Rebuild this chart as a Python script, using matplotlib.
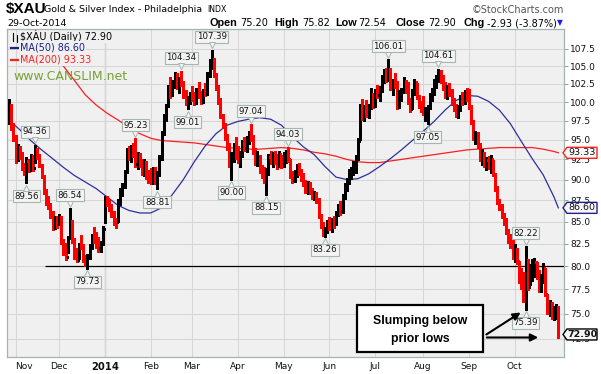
import numpy as np
import pandas as pd
import matplotlib
matplotlib.use("Agg")
import matplotlib.pyplot as plt
from matplotlib.collections import LineCollection
from matplotlib.patches import Polygon, Rectangle, FancyArrowPatch
from matplotlib.lines import Line2D
from matplotlib.ticker import FixedLocator, NullLocator, FuncFormatter
import matplotlib.transforms as mtransforms

W, H, DPI = 601, 374, 100

# ---------------- data ----------------
START, END = "2013-10-29", "2014-10-29"
HOLIDAYS = ["2013-11-28", "2013-12-25", "2014-01-01", "2014-01-20", "2014-02-17",
            "2014-04-18", "2014-05-26", "2014-07-04", "2014-09-01"]

high = [100.4, 99.8, 97.2, 95.6, 94.4, 94.2, 93.4, 92.0, 92.8, 92.6,
        93.2, 93.0, 94.36, 94.0, 93.2, 91.9, 90.6, 88.8, 88.0, 87.2,
        86.2, 85.6, 85.6, 85.9, 85.6, 83.0, 82.6, 83.4, 86.54, 85.2,
        83.1, 82.0, 82.6, 83.5, 82.4, 81.2, 81.3, 82.4, 83.6, 84.4,
        83.8, 83.2, 82.8, 84.5, 88.0, 88.0, 87.6, 87.0, 86.2, 85.4,
        87.6, 89.0, 89.6, 91.2, 94.0, 94.2, 94.3, 94.6, 95.23, 93.4,
        93.3, 92.6, 92.5, 92.3, 91.2, 91.4, 91.6, 91.5, 91.0, 93.0,
        96.2, 98.4, 99.8, 102.4, 103.5, 103.0, 104.2, 104.0, 103.4, 104.34,
        102.9, 101.6, 100.8, 101.4, 102.2, 101.4, 102.0, 102.7, 101.5, 101.8,
        102.6, 104.2, 106.0, 107.39, 106.2, 104.0, 102.4, 100.6, 98.4, 97.2,
        95.8, 94.6, 93.4, 94.6, 95.4, 94.2, 93.5, 95.0, 95.4, 95.5,
        96.2, 97.04, 95.6, 94.0, 93.6, 93.0, 91.8, 91.6, 91.4, 93.2,
        93.6, 93.4, 93.6, 93.2, 93.5, 93.0, 93.4, 93.7, 94.03, 92.6,
        91.0, 91.2, 91.9, 92.1, 91.3, 90.8, 90.0, 89.8, 89.7, 89.0,
        88.6, 88.5, 87.8, 85.9, 85.0, 84.4, 85.2, 85.5, 85.4, 85.7,
        86.2, 87.0, 87.4, 88.2, 89.6, 90.2, 91.3, 91.6, 92.3, 93.0,
        95.2, 99.8, 100.4, 99.6, 100.3, 99.8, 101.9, 101.2, 101.8, 102.4,
        102.2, 103.8, 104.6, 104.8, 106.01, 104.8, 103.2, 104.0, 102.9, 101.6,
        102.0, 103.4, 103.0, 102.8, 100.6, 101.8, 103.2, 102.6, 101.0, 100.2,
        100.8, 99.4, 99.6, 101.2, 102.0, 103.2, 103.8, 104.61, 104.4, 103.8,
        102.8, 102.4, 102.6, 101.8, 100.6, 99.8, 99.6, 101.0, 101.4, 101.6,
        102.0, 101.8, 99.6, 97.6, 96.2, 96.0, 94.6, 93.8, 93.4, 92.8,
        92.9, 93.0, 92.4, 90.8, 89.2, 87.6, 87.0, 86.0, 85.4, 84.2,
        83.6, 83.0, 82.4, 82.0, 80.6, 79.8, 79.4, 82.22, 80.8, 80.2,
        80.8, 80.9, 80.4, 79.6, 79.2, 80.3, 79.8, 77.0, 76.4, 76.2,
        75.8, 76.0, 75.82]

low = [97.0, 96.3, 94.8, 92.0, 92.3, 92.6, 91.2, 90.6, 89.56, 90.9,
       91.1, 91.0, 92.1, 92.5, 91.5, 90.2, 88.2, 86.9, 86.5, 85.4,
       84.0, 84.2, 84.3, 84.6, 82.4, 81.2, 80.7, 81.4, 83.0, 82.6,
       80.8, 80.5, 80.8, 81.9, 80.4, 80.0, 79.73, 80.8, 81.9, 82.6,
       82.0, 81.6, 81.5, 82.3, 84.8, 86.8, 86.2, 85.5, 84.6, 84.3,
       85.0, 86.9, 88.0, 89.0, 90.8, 92.4, 92.2, 92.8, 91.5, 91.3,
       91.6, 90.6, 90.4, 90.1, 89.6, 89.4, 89.5, 89.4, 88.81, 90.4,
       92.4, 95.6, 97.4, 99.3, 100.6, 100.8, 101.9, 101.8, 101.3, 102.2,
       100.6, 99.6, 99.01, 99.7, 100.2, 99.6, 99.8, 100.5, 99.8, 99.9,
       100.8, 101.0, 103.5, 104.6, 103.4, 101.6, 99.8, 97.8, 96.6, 95.0,
       93.7, 91.6, 90.00, 92.2, 92.5, 92.0, 91.6, 92.8, 93.5, 93.4,
       94.4, 94.8, 93.2, 91.8, 91.7, 90.8, 90.2, 89.6, 88.15, 90.6,
       91.9, 91.6, 91.9, 91.3, 91.5, 91.4, 91.5, 92.1, 92.2, 90.2,
       89.6, 89.7, 90.3, 90.6, 89.8, 89.2, 88.4, 88.3, 88.2, 87.6,
       87.5, 87.2, 85.4, 84.3, 83.4, 83.26, 83.7, 84.0, 83.8, 84.3,
       84.6, 85.6, 85.8, 86.0, 87.6, 88.6, 89.5, 90.1, 90.5, 90.8,
       92.4, 95.0, 97.6, 97.4, 98.0, 97.8, 99.0, 99.2, 99.4, 100.6,
       100.2, 101.4, 102.6, 102.8, 102.9, 101.6, 101.0, 101.9, 99.0, 99.2,
       100.2, 101.2, 101.2, 99.8, 98.6, 99.0, 101.0, 100.4, 99.2, 98.6,
       98.2, 97.4, 97.05, 99.0, 100.2, 101.0, 101.9, 102.8, 102.6, 101.6,
       100.6, 100.4, 100.8, 99.6, 98.8, 98.0, 97.8, 98.8, 99.6, 99.8,
       100.2, 99.0, 97.0, 95.0, 94.4, 94.0, 92.3, 91.8, 91.6, 91.2,
       91.3, 90.8, 90.4, 88.6, 87.0, 86.3, 85.4, 84.6, 83.6, 82.6,
       82.0, 80.8, 80.4, 80.2, 78.2, 77.5, 76.2, 75.39, 77.4, 78.0,
       78.4, 78.8, 78.6, 77.2, 77.2, 78.2, 76.8, 75.0, 74.8, 74.4,
       74.3, 74.4, 72.54]

close = [99.2, 96.8, 95.2, 92.4, 94.0, 93.1, 91.5, 90.9, 92.3, 91.3,
         92.8, 91.4, 93.6, 92.8, 91.8, 90.4, 88.4, 87.2, 86.9, 85.6,
         84.4, 85.3, 84.7, 85.5, 82.7, 81.5, 81.0, 83.1, 84.6, 82.9,
         81.0, 80.7, 82.3, 82.2, 80.6, 80.3, 80.9, 82.1, 83.3, 83.0,
         82.3, 82.0, 82.5, 84.2, 87.6, 87.3, 86.6, 85.8, 85.0, 84.9,
         87.3, 88.7, 89.3, 90.9, 93.6, 92.8, 94.0, 93.2, 91.9, 92.8,
         91.9, 91.0, 92.1, 90.4, 90.0, 89.9, 91.2, 89.8, 90.6, 92.7,
         95.9, 98.0, 99.5, 102.0, 101.0, 102.6, 103.8, 102.2, 103.0, 102.6,
         101.0, 100.2, 100.4, 101.0, 100.6, 100.0, 101.6, 100.9, 100.4, 101.5,
         101.2, 103.9, 105.6, 106.1, 103.8, 102.0, 100.2, 98.2, 96.9, 95.3,
         94.0, 92.0, 92.8, 94.2, 93.0, 92.4, 93.2, 94.5, 93.9, 95.1,
         95.8, 95.3, 93.6, 92.3, 92.9, 91.2, 90.6, 89.9, 90.8, 92.8,
         92.3, 93.0, 92.2, 91.7, 93.2, 91.8, 92.9, 93.3, 92.6, 90.5,
         89.9, 90.8, 91.5, 91.0, 90.4, 89.5, 88.9, 89.4, 88.6, 88.0,
         88.3, 87.6, 85.7, 84.6, 83.8, 84.1, 84.8, 84.6, 85.1, 84.8,
         85.9, 86.6, 86.2, 87.9, 89.3, 89.9, 90.9, 91.2, 91.5, 92.6,
         94.9, 99.4, 98.0, 99.2, 98.4, 99.5, 100.8, 99.7, 101.4, 101.0,
         101.9, 103.5, 104.1, 103.2, 104.4, 101.9, 102.8, 102.3, 99.4, 101.2,
         101.8, 102.6, 101.6, 100.2, 99.0, 101.4, 102.8, 100.8, 99.6, 99.0,
         98.6, 98.9, 99.2, 100.9, 101.6, 102.9, 103.5, 104.0, 103.0, 102.0,
         101.0, 101.9, 101.2, 100.0, 99.2, 98.4, 99.3, 100.6, 100.4, 101.3,
         100.6, 99.3, 97.3, 95.4, 95.8, 94.4, 92.7, 93.2, 92.0, 92.4,
         91.6, 92.6, 90.7, 89.0, 87.4, 86.8, 85.7, 85.0, 84.0, 83.0,
         82.4, 81.2, 81.8, 80.6, 78.5, 78.0, 76.6, 80.4, 77.8, 79.2,
         80.3, 80.5, 79.0, 77.6, 78.6, 79.8, 77.0, 75.3, 76.0, 74.7,
         75.5, 75.83, 72.90]

FIRST_OPEN = 98.0
LAST_OPEN = 75.20
CHANGE, CHANGE_PCT = -2.93, -3.87

# moving averages read every 5 trading days (+ last day)
ma_days = list(range(0, 251, 5)) + [252]
ma50 = [97.6, 96.3, 94.9, 93.7, 92.6, 91.5, 90.5, 89.7, 88.9, 87.9,
        86.9, 86.3, 86.0, 86.0, 86.6, 88.2, 90.0, 92.2, 94.2, 95.8,
        96.9, 97.4, 97.7, 97.9, 97.7, 96.9, 95.4, 94.1, 93.1, 91.6,
        90.3, 90.0, 90.1, 90.7, 91.6, 92.6, 93.7, 94.9, 96.1, 97.4,
        98.9, 100.2, 100.9, 100.8, 100.1, 98.9, 97.1, 94.8, 92.6, 90.6,
        87.9, 86.6]
ma200 = [116.0, 113.5, 111.2, 109.0, 106.9, 105.0, 103.0, 101.0, 99.6, 98.5,
         97.6, 96.6, 95.8, 95.2, 94.9, 94.8, 94.7, 94.6, 94.4, 94.2,
         94.0, 93.9, 93.8, 93.8, 93.9, 94.0, 93.9, 93.7, 93.4, 93.2,
         92.9, 92.5, 92.2, 92.1, 92.1, 92.3, 92.5, 92.7, 92.9, 93.1,
         93.3, 93.5, 93.7, 93.8, 93.9, 94.0, 94.0, 94.0, 94.0, 93.8,
         93.5, 93.33]

SUPPORT = 80.0
SUPPORT_FROM = "2013-11-20"

callouts = [(12, 94.36, "hi"), (8, 89.56, "lo"), (28, 86.54, "hi"), (36, 79.73, "lo"),
            (58, 95.23, "hi"), (68, 88.81, "lo"), (79, 104.34, "hi"), (82, 99.01, "lo"),
            (93, 107.39, "hi"), (102, 90.00, "lo"), (111, 97.04, "hi"), (118, 88.15, "lo"),
            (128, 94.03, "hi"), (145, 83.26, "lo"), (174, 106.01, "hi"), (192, 97.05, "lo"),
            (197, 104.61, "hi"), (237, 82.22, "hi"), (237, 75.39, "lo")]

month_names = ["Nov", "Dec", "2014", "Feb", "Mar", "Apr", "May", "Jun", "Jul",
               "Aug", "Sep", "Oct"]
y_ticks = [72.5, 75.0, 77.5, 80.0, 82.5, 85.0, 87.5, 90.0, 92.5, 95.0, 97.5,
           100.0, 102.5, 105.0, 107.5]

# ---------------- calendar ----------------
dates = pd.bdate_range(START, END)
dates = dates[~dates.isin(pd.to_datetime(HOLIDAYS))]
n = min(len(dates), len(high), len(low), len(close))
dates = dates[:n]
high, low, close = high[:n], low[:n], close[:n]

# ---------------- figure ----------------
fig = plt.figure(figsize=(W / DPI, H / DPI), dpi=DPI)
fig.patch.set_facecolor("white")
PL, PR, PT, PB = 7, 564, 29, 357
ax = fig.add_axes([PL / W, 1 - PB / H, (PR - PL) / W, (PB - PT) / H])
BG = "#f0f0f0"
ax.set_facecolor(BG)
ax.set_yscale("log")
ax.set_ylim(70.7, 110.45)
ax.set_xlim(-0.9, 254.6)

ax.yaxis.set_major_locator(FixedLocator(y_ticks))
ax.yaxis.set_minor_locator(NullLocator())
ax.yaxis.set_major_formatter(FuncFormatter(lambda v, p: f"{v:.1f}"))
ax.yaxis.set_minor_formatter(FuncFormatter(lambda v, p: ""))
ax.yaxis.tick_right()
ax.tick_params(axis="y", which="major", length=3, width=0.7, color="#8fa59b",
               labelsize=6.5, pad=1.5, direction="out", labelcolor="#111111")

mon = np.asarray(dates.month)
month_idx = [i for i in range(1, n) if mon[i] != mon[i - 1]]
ax.set_xticks(month_idx)
ax.set_xticklabels([])
ax.tick_params(axis="x", length=0)
ax.grid(True, axis="both", color="#d6d6d6", lw=0.75, zorder=0)
ax.set_axisbelow(True)
for i, m in zip(month_idx, month_names):
    if m == "2014":
        ax.axvline(i, color="#a9b3ae", lw=0.9, zorder=0.5)
for sp in ax.spines.values():
    sp.set_color("#a3b6ad")
    sp.set_linewidth(0.9)

for k, (i, m) in enumerate(zip(month_idx, month_names)):
    ax.text(i, -0.03, m, transform=ax.get_xaxis_transform(),
            ha="left" if k == 0 else "center", va="center",
            fontsize=7.2 if m == "2014" else 6.5,
            fontweight="bold" if m == "2014" else "normal", color="#111111")

# moving averages
ax.plot(ma_days, ma200, color="#ff1e1e", lw=0.9, zorder=2)
ax.plot(ma_days, ma50, color="#2f2f9c", lw=0.9, zorder=2)

# support line
s0 = int(np.searchsorted(dates, pd.Timestamp(SUPPORT_FROM)))
ax.hlines(SUPPORT, s0 + 0.5, 254.6, color="black", lw=0.9, zorder=2.5)

# OHLC bars
opens = [FIRST_OPEN] + close[:-1]
opens[-1] = LAST_OPEN
segs, cols = [], []
TK = 0.5
for i in range(n):
    c = "#ff0000" if (i > 0 and close[i] < close[i - 1]) else "#000000"
    segs += [[(i, low[i]), (i, high[i])],
             [(i - TK, opens[i]), (i, opens[i])],
             [(i, close[i]), (i + TK, close[i])]]
    cols += [c, c, c]
lc = LineCollection(segs, colors=cols, linewidths=0.76, antialiased=False, zorder=3)
ax.add_collection(lc)

# callouts
BOX = dict(boxstyle="square,pad=0.18", fc="#f4f4f4", ec="#a6b6ae", lw=0.8)
for i, v, kind in callouts:
    sgn = 1 if kind == "hi" else -1
    ax.annotate(f"{v:.2f}", xy=(i, v), xycoords="data",
                xytext=(0, sgn * 13 * 72 / DPI), textcoords="offset points",
                ha="center", va="center", fontsize=6.2, color="#111111",
                bbox=BOX, zorder=6, annotation_clip=False)
    tr = mtransforms.offset_copy(ax.transData, fig=fig, x=0, y=sgn * 4.5, units="dots")
    ax.plot([i], [v], marker="v" if kind == "hi" else "^", ms=4.5,
            mfc="#f4f4f4", mec="#a6b6ae", mew=0.7, transform=tr, zorder=7,
            clip_on=False)


def fx(x):
    return x / W


def fy(y):
    return 1 - y / H


def data_py(v):
    return H - ax.transData.transform((0, v))[1]


def value_box(v, ec, txt, bold=False):
    yc = data_py(v)
    x0, x1, hh = 567, 597, 5.5
    pts = [(563, yc), (x0, yc - hh), (x1, yc - hh), (x1, yc + hh), (x0, yc + hh)]
    poly = Polygon([(fx(a), fy(b)) for a, b in pts], closed=True,
                   transform=fig.transFigure, fc="#f7f7f7", ec=ec, lw=1.0, zorder=10)
    fig.add_artist(poly)
    fig.text(fx(582), fy(yc), txt, ha="center", va="center", fontsize=6.8,
             color="#111111", fontweight="bold" if bold else "normal", zorder=11)


value_box(ma200[-1], "#ff2020", f"{ma200[-1]:.2f}")
value_box(ma50[-1], "#1e1e8c", f"{ma50[-1]:.2f}")
value_box(close[-1], "#000000", f"{close[-1]:.2f}", bold=True)

# ---------------- header ----------------
NARROW = ["Liberation Sans Narrow", "Liberation Sans", "DejaVu Sans"]
fig.text(fx(6), fy(9), "$XAU", fontsize=11, fontweight="bold", family=NARROW,
         ha="left", va="center")
fig.text(fx(44), fy(10), "Gold & Silver Index - Philadelphia", fontsize=6.8,
         ha="left", va="center")
fig.text(fx(207), fy(10), "INDX", fontsize=5.6, ha="left", va="center")
fig.text(fx(7), fy(23), "29-Oct-2014", fontsize=6.8, ha="left", va="center")
fig.text(fx(564), fy(10), "\u00a9StockCharts.com", fontsize=7, color="#555555",
         ha="right", va="center")

hdr = [(210, "Open", True), (240, f"{LAST_OPEN:.2f}", False),
       (274, "High", True), (302, f"{high[-1]:.2f}", False),
       (335, "Low", True), (358, f"{low[-1]:.2f}", False),
       (395, "Close", True), (428, f"{close[-1]:.2f}", False),
       (463, "Chg", True), (487, f"{CHANGE:.2f} ({CHANGE_PCT:.2f}%)", False)]
for x, t, b in hdr:
    if b:
        fig.text(fx(x), fy(23), t, fontsize=7.8, fontweight="bold",
                 family=["Liberation Sans", "DejaVu Sans"], ha="left", va="center")
    else:
        fig.text(fx(x), fy(23), t, fontsize=7.0, ha="left", va="center")
fig.text(fx(560), fy(23), "\u25bc", fontsize=5.5, color="#1a1aff", ha="center",
         va="center")

# ---------------- legend inside plot ----------------
LBOX = dict(boxstyle="square,pad=0.15", fc=BG, ec="none")
for xa, y0, y1 in [(13, 33, 41), (17, 35, 42)]:
    fig.add_artist(Line2D([fx(xa), fx(xa)], [fy(y0), fy(y1)], transform=fig.transFigure,
                          color="black", lw=0.8, zorder=9))
fig.text(fx(20), fy(37), f"$XAU (Daily) {close[-1]:.2f}", fontsize=6.9,
         ha="left", va="center", zorder=9, bbox=LBOX)
fig.add_artist(Line2D([fx(11), fx(18)], [fy(47.5), fy(47.5)], transform=fig.transFigure,
                      color="#1e1e8c", lw=1.6, zorder=9))
fig.text(fx(20), fy(47.5), f"MA(50) {ma50[-1]:.2f}", fontsize=6.9, color="#1e1e8c",
         ha="left", va="center", zorder=9, bbox=LBOX)
fig.add_artist(Line2D([fx(11), fx(18)], [fy(59.5), fy(59.5)], transform=fig.transFigure,
                      color="#ff1e1e", lw=1.6, zorder=9))
fig.text(fx(20), fy(59.5), f"MA(200) {ma200[-1]:.2f}", fontsize=6.9, color="#ff1e1e",
         ha="left", va="center", zorder=9, bbox=LBOX)
fig.text(fx(13), fy(76), "www.CANSLIM.net", fontsize=9, color="#76a236",
         ha="left", va="center", zorder=9)

# ---------------- note box + arrows ----------------
fig.add_artist(Rectangle((fx(357), fy(352)), 126 / W, 47 / H, transform=fig.transFigure,
                         fc="white", ec="black", lw=1.6, zorder=12))
BOLD = ["Liberation Sans", "DejaVu Sans"]
fig.text(fx(420), fy(321), "Slumping below", fontsize=8.8, fontweight="bold",
         family=BOLD, ha="center", va="center", zorder=13)
fig.text(fx(420), fy(339), "prior lows", fontsize=8.8, fontweight="bold",
         family=BOLD, ha="center", va="center", zorder=13)
for (x0, y0), (x1, y1) in [((484, 336), (523, 311)), ((484, 337.5), (541, 337.5))]:
    fig.add_artist(FancyArrowPatch((fx(x0), fy(y0)), (fx(x1), fy(y1)),
                                   transform=fig.transFigure, arrowstyle="-|>",
                                   mutation_scale=11, lw=1.5, color="black",
                                   zorder=12))

fig.savefig("out.png", dpi=DPI, facecolor="white")
